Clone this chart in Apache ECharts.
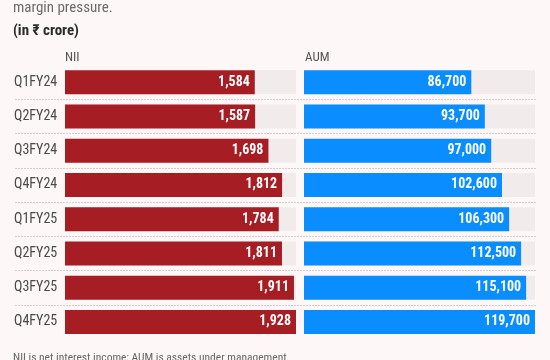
<!DOCTYPE html>
<html>
<head>
<meta charset="utf-8">
<script src="https://cdn.jsdelivr.net/npm/echarts@6/dist/echarts.min.js"></script>
<style>
html,body{margin:0;padding:0;background:#fdf7f7;}
#c{width:550px;height:360px;}
</style>
</head>
<body>
<div id="c"></div>
<script>
const categories = ['Q1FY24','Q2FY24','Q3FY24','Q4FY24','Q1FY25','Q2FY25','Q3FY25','Q4FY25'];
const nii = [1584, 1587, 1698, 1812, 1784, 1811, 1911, 1928];
const aum = [86700, 93700, 97000, 102600, 106300, 112500, 115100, 119700];
const separators = [null, null, null, null, null, null, null, null];

const FONT = '"Roboto Condensed", "Open Sans", sans-serif';
const fmt = p => Number(p.value).toLocaleString('en-US');

const chart = echarts.init(document.getElementById('c'), null, {renderer: 'canvas'});
const gridTop = 65, gridH = 274;

chart.setOption({
  backgroundColor: '#fdf7f7',
  animation: false,
  title: [
    {text: 'margin pressure.', left: 13, top: 1, padding: 0, textStyle: {fontFamily: FONT, fontSize: 15, fontWeight: 'normal', color: '#6b6b6b'}},
    {text: '(in ₹ crore)', left: 13, top: 24, padding: 0, textStyle: {fontFamily: FONT, fontSize: 15, fontWeight: 'bold', color: '#2b2b2b'}},
    {text: 'NII', left: 65, top: 51, padding: 0, textStyle: {fontFamily: FONT, fontSize: 13, fontWeight: 'normal', color: '#555'}},
    {text: 'AUM', left: 305, top: 51, padding: 0, textStyle: {fontFamily: FONT, fontSize: 13, fontWeight: 'normal', color: '#555'}},
    {text: 'NII is net interest income; AUM is assets under management', left: 13, top: 352, padding: 0, textStyle: {fontFamily: FONT, fontSize: 11.5, fontWeight: 'normal', color: '#666'}}
  ],
  grid: [
    {left: 65, width: 231, top: gridTop, height: gridH},
    {left: 304, width: 231, top: gridTop, height: gridH},
    {left: 15, width: 521, top: gridTop, height: gridH}
  ],
  xAxis: [
    {gridIndex: 0, type: 'value', min: 0, max: 1928, show: false},
    {gridIndex: 1, type: 'value', min: 0, max: 119700, show: false},
    {gridIndex: 2, type: 'value', min: 0, max: 1, show: false}
  ],
  yAxis: [
    {gridIndex: 0, type: 'category', data: categories, inverse: true,
     axisLine: {show: false}, axisTick: {show: false}, splitLine: {show: false},
     axisLabel: {align: 'left', margin: 51, fontFamily: FONT, fontSize: 14, color: '#4a4a4a'}},
    {gridIndex: 1, type: 'category', data: categories, inverse: true, show: false},
    {gridIndex: 2, type: 'category', data: categories, inverse: true, show: true,
     axisLine: {show: false}, axisTick: {show: false}, axisLabel: {show: false},
     splitLine: {show: true, interval: 0, showMinLine: false, showMaxLine: false,
       lineStyle: {color: '#d6cfcf', type: [2, 1], width: 1}}}
  ],
  series: [
    {type: 'bar', xAxisIndex: 2, yAxisIndex: 2, data: separators, silent: true},
    {type: 'bar', xAxisIndex: 0, yAxisIndex: 0, data: nii, barWidth: 24,
     itemStyle: {color: '#a61d24'},
     showBackground: true, backgroundStyle: {color: '#f1ebeb'},
     label: {show: true, position: 'insideRight', distance: 5, formatter: fmt,
       fontFamily: FONT, fontSize: 14, fontWeight: 'bold', color: '#fff'}},
    {type: 'bar', xAxisIndex: 1, yAxisIndex: 1, data: aum, barWidth: 24,
     itemStyle: {color: '#0a8dff'},
     showBackground: true, backgroundStyle: {color: '#f1ebeb'},
     label: {show: true, position: 'insideRight', distance: 5, formatter: fmt,
       fontFamily: FONT, fontSize: 14, fontWeight: 'bold', color: '#fff'}}
  ]
});
</script>
</body>
</html>
